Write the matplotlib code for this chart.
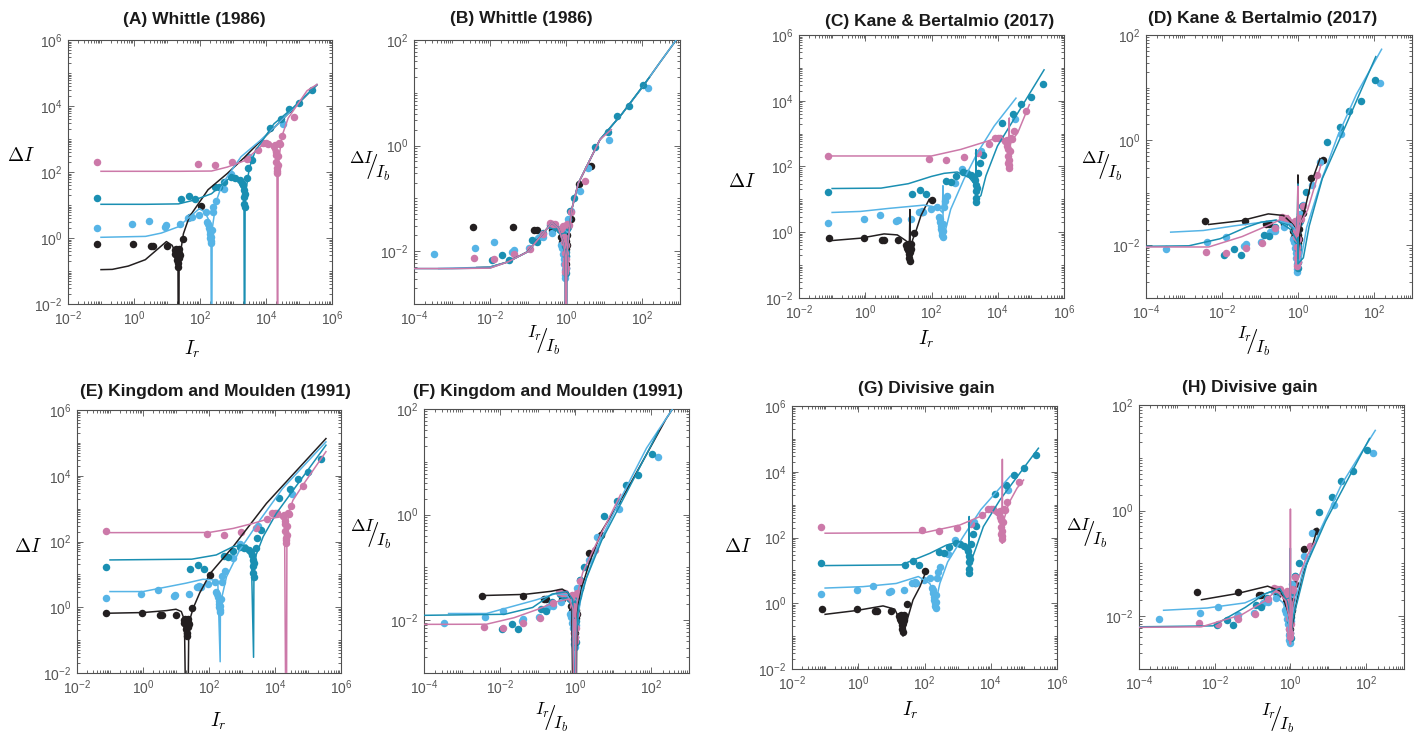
import numpy as np
import matplotlib.pyplot as plt
from matplotlib.ticker import FixedLocator, LogLocator, FuncFormatter, NullFormatter

plt.rcParams['font.family'] = ['Liberation Sans', 'DejaVu Sans']
plt.rcParams['mathtext.fontset'] = 'cm'

# series colours: black, light blue, teal, pink (background levels Ib)
colors = ['#231f20', '#56b4e6', '#1a8fb2', '#cc79a9']
Ib = [22.4, 224, 2240, 22400]

# ---- measured thresholds (Ir, dI) ----
black_ir = [0.078, 0.92, 3.3, 3.8, 9.8, 17, 18, 19, 20, 20.5, 21, 21.5, 22, 22.5, 23, 23.5, 24, 30, 50, 105]
black_di = [0.65, 0.65, 0.57, 0.57, 0.57, 0.42, 0.33, 0.45, 0.28, 0.22, 0.38, 0.17, 0.13, 0.25, 0.35, 0.45, 0.3, 0.92, 4.2, 9.3]

light_ir = [0.077, 0.9, 2.8, 8.5, 9.5, 24, 42, 50, 57, 95, 150, 165, 175, 185, 195, 200, 205, 210, 215,
            220, 230, 240, 250, 300, 520, 850, 3100, 33000]
light_di = [1.95, 2.6, 3.3, 2.2, 2.4, 2.6, 4.0, 4.3, 4.2, 5.0, 6.0, 3.0, 2.6, 2.0, 1.6, 1.3, 1.0, 0.8, 0.7,
            1.1, 1.8, 6.0, 9.0, 13, 31, 85, 290, 2800]

teal_ir = [0.077, 26, 46, 70, 280, 380, 550, 870, 1150, 1600, 1900, 2050, 2150, 2200, 2200, 2250, 2300,
           2570, 2900, 3700, 13000, 28000, 50000, 100000, 240000]
teal_di = [16.6, 15, 19, 15, 36, 34, 50, 69, 65, 57, 48, 40, 28, 18, 11, 8.5, 22,
           65, 128, 230, 2100, 4000, 8000, 12600, 31600]

pink_ir = [0.077, 85, 280, 950, 2600, 5600, 8300, 10000, 11700, 17000, 18600, 19500, 20000, 20500, 21000,
           21500, 22000, 22500, 23000, 24500, 27000, 30000, 72000]
pink_di = [204, 170, 162, 200, 250, 470, 760, 740, 720, 600, 660, 415, 330, 205, 128,
           91, 110, 160, 300, 740, 700, 1230, 4800]

data_ir = [black_ir, light_ir, teal_ir, pink_ir]
data_di = [black_di, light_di, teal_di, pink_di]

# ---- model curves (Ir, dI) ----
# Whittle (1986)
wh_black_ir = [0.1, 0.22, 0.67, 2.2, 5.2, 9.6, 14.3, 19.5, 21.5, 22.4, 23.3, 26.9, 31.4, 47, 87, 175, 670, 2240, 6700, 22400, 350000]
wh_black_di = [0.11, 0.112, 0.141, 0.22, 0.46, 0.78, 0.6, 0.31, 0.18, 1e-6, 0.18, 0.49, 1.34, 4.3, 10.5, 29, 90, 280, 850, 2800, 44000]
wh_light_ir = [0.1, 2.24, 6.7, 22.4, 52, 96, 143, 195, 215, 224, 233, 269, 314, 470, 870, 1750, 6700, 22400, 67000, 350000]
wh_light_di = [1.05, 1.12, 1.41, 2.2, 4.6, 7.8, 6.0, 3.1, 1.8, 1e-6, 1.8, 4.9, 13.4, 43, 105, 290, 900, 2800, 8500, 44000]
wh_teal_ir = [0.1, 2.24, 22.4, 67, 224, 520, 960, 1430, 1950, 2150, 2240, 2330, 2690, 3140, 4700, 8700, 17500, 67000, 350000]
wh_teal_di = [10.5, 10.5, 10.8, 14.1, 22, 46, 78, 60, 31, 18, 1e-6, 18, 49, 134, 430, 1050, 2900, 9000, 44000]
wh_pink_ir = [0.1, 22.4, 224, 672, 2240, 5200, 9600, 14300, 19500, 21500, 22400, 23300, 26900, 31400, 47000, 87000, 175000, 350000]
wh_pink_di = [105, 105, 107, 141, 220, 460, 780, 600, 310, 180, 1e-6, 180, 490, 1340, 4300, 10500, 29000, 45000]

# Kane & Bertalmio (2017)
kb_black_ir = [0.1, 0.72, 3.7, 9.3, 16.6, 21.5, 22.3, 22.4, 23, 27, 33, 48, 85]
kb_black_di = [0.56, 0.66, 0.89, 0.83, 0.56, 0.44, 4.9, 0.125, 0.2, 0.6, 1.0, 3.2, 10]
kb_light_ir = [0.1, 0.72, 5, 60, 150, 213, 222, 224, 270, 380, 950, 2450, 7800, 35500]
kb_light_di = [4.0, 4.3, 5.3, 6.7, 5.7, 4.0, 26, 1.0, 1.26, 5, 41, 263, 1700, 12000]
kb_teal_ir = [0.1, 3, 20, 100, 240, 600, 1380, 2200, 2230, 2240, 3100, 4400, 9800, 40000, 250000]
kb_teal_di = [21.4, 22, 30, 50, 62, 68, 46, 26, 330, 10, 13, 52, 420, 4200, 87000]
kb_pink_ir = [0.1, 100, 760, 4900, 12300, 19500, 22000, 22300, 22400, 26000, 40000, 90000]
kb_pink_di = [209, 209, 330, 590, 830, 525, 330, 3000, 350, 600, 1050, 7600]

# Kingdom and Moulden (1991)
km_black_ir = [0.1, 1, 5.1, 10, 14.5, 18, 21.5, 24.5, 33, 52, 110, 540, 5500, 350000]
km_black_di = [0.66, 0.69, 0.79, 0.87, 0.74, 0.41, 1e-6, 0.33, 0.93, 2.7, 10.8, 70, 1440, 135000]
km_light_ir = [0.1, 1, 20, 66, 132, 186, 218, 222, 340, 850, 3500, 17000, 350000]
km_light_di = [3.0, 3.0, 5.4, 7.1, 6.8, 4.8, 0.022, 1.3, 8.5, 55, 450, 4100, 107000]
km_teal_ir = [0.1, 30, 166, 540, 1350, 1900, 2240, 2300, 2700, 4370, 11000, 350000]
km_teal_di = [27.5, 29, 39, 70, 78, 55, 0.03, 10, 40, 140, 720, 85000]
km_pink_ir = [0.1, 100, 540, 2140, 6900, 15500, 19500, 22000, 23000, 27500, 35000, 70000, 350000]
km_pink_di = [186, 188, 250, 355, 500, 565, 355, 1e-6, 300, 910, 1800, 5200, 54000]

# Divisive gain
dg_black_ir = [0.1, 0.87, 5.6, 12.6, 20, 22.4, 32, 45, 73, 115]
dg_black_di = [0.46, 0.6, 0.83, 0.66, 0.25, 0.1, 0.39, 1.26, 3.2, 10.3]
dg_light_ir = [0.1, 1.4, 14, 65, 145, 200, 220, 250, 290, 500, 1500, 5000, 39000]
dg_light_di = [2.9, 3.2, 4.0, 6.5, 4.0, 1.8, 0.8, 2.0, 4.0, 18, 110, 700, 7400]
dg_teal_ir = [0.1, 20, 145, 465, 1170, 1860, 2200, 2230, 2245, 2600, 3400, 6000, 19000, 275000]
dg_teal_di = [14, 14.7, 33, 59, 75, 42, 20, 435, 9, 20, 42, 215, 1400, 52000]
dg_pink_ir = [0.1, 100, 1170, 4750, 9500, 17000, 21000, 22300, 22400, 22500, 26000, 35000, 62000, 98000]
dg_pink_di = [135, 141, 240, 435, 690, 435, 200, 67, 24000, 67, 400, 1100, 3160, 5600]

models = {
    'wh': ([wh_black_ir, wh_light_ir, wh_teal_ir, wh_pink_ir], [wh_black_di, wh_light_di, wh_teal_di, wh_pink_di]),
    'kb': ([kb_black_ir, kb_light_ir, kb_teal_ir, kb_pink_ir], [kb_black_di, kb_light_di, kb_teal_di, kb_pink_di]),
    'km': ([km_black_ir, km_light_ir, km_teal_ir, km_pink_ir], [km_black_di, km_light_di, km_teal_di, km_pink_di]),
    'dg': ([dg_black_ir, dg_light_ir, dg_teal_ir, dg_pink_ir], [dg_black_di, dg_light_di, dg_teal_di, dg_pink_di]),
}

W, H = 1419, 739

# panel: (title, model, normalised, box px (l, r, t, b), title pos, ylabel pos, xlabel pos)
panels = [
    ('(A) Whittle (1986)', 'wh', False, (68, 332, 40, 304), (0.48, 1.076), (-0.18, 0.56), (0.47, -0.17)),
    ('(B) Whittle (1986)', 'wh', True, (414, 680, 40, 304), (0.405, 1.082), (-0.17, 0.52), (0.485, -0.14)),
    ('(C) Kane & Bertalmio (2017)', 'kb', False, (799, 1064, 35, 298), (0.532, 1.05), (-0.216, 0.44), (0.48, -0.158)),
    ('(D) Kane & Bertalmio (2017)', 'kb', True, (1146, 1412, 35, 298), (0.44, 1.063), (-0.167, 0.5), (0.404, -0.165)),
    ('(E) Kingdom and Moulden (1991)', 'km', False, (77, 341, 410, 673), (0.523, 1.07), (-0.186, 0.48), (0.534, -0.184)),
    ('(F) Kingdom and Moulden (1991)', 'km', True, (424, 689, 409, 673), (0.468, 1.067), (-0.204, 0.524), (0.48, -0.17)),
    ('(G) Divisive gain', 'dg', False, (792, 1057, 406, 669), (0.508, 1.067), (-0.204, 0.465), (0.445, -0.156)),
    ('(H) Divisive gain', 'dg', True, (1139, 1404, 405, 669), (0.419, 1.067), (-0.2, 0.514), (0.52, -0.187)),
]

tick_fmt = FuncFormatter(lambda v, p: r'$\mathregular{10^{%d}}$' % int(round(np.log10(v))))
axis_col = '#505050'

fig = plt.figure(figsize=(W / 100, H / 100), dpi=100)

for title, key, norm, (l, r, t, b), tpos, ypos, xpos in panels:
    ax = fig.add_axes([l / W, 1 - b / H, (r - l) / W, (b - t) / H])
    ax.set_xscale('log')
    ax.set_yscale('log')
    cur_ir, cur_di = models[key]

    for k in range(4):
        x = np.array(data_ir[k])
        y = np.array(data_di[k])
        if norm:
            x, y = x / Ib[k], y / Ib[k]
        ax.plot(x, y, 'o', color=colors[k], markersize=5.4, markeredgewidth=0, zorder=2)
    for k in range(4):
        x = np.array(cur_ir[k])
        y = np.array(cur_di[k])
        if norm:
            x, y = x / Ib[k], y / Ib[k]
        ax.plot(x, y, '-', color=colors[k], linewidth=1.1, zorder=3)

    if norm:
        ax.set_xlim(1e-4, 1e3)
        ax.set_ylim(1e-3, 1e2)
        ax.xaxis.set_major_locator(FixedLocator([1e-4, 1e-2, 1e0, 1e2]))
        ax.yaxis.set_major_locator(FixedLocator([1e-2, 1e0, 1e2]))
        ax.set_ylabel(r'${}^{\Delta I}\!\!/\!{}_{I_b}$', fontsize=18, rotation=0, ha='center', va='center')
        ax.set_xlabel(r'${}^{I_r}\!\!/\!{}_{I_b}$', fontsize=18, ha='center', va='center')
    else:
        ax.set_xlim(1e-2, 1e6)
        ax.set_ylim(1e-2, 1e6)
        ax.xaxis.set_major_locator(FixedLocator([1e-2, 1e0, 1e2, 1e4, 1e6]))
        ax.yaxis.set_major_locator(FixedLocator([1e-2, 1e0, 1e2, 1e4, 1e6]))
        ax.set_ylabel(r'$\Delta I$', fontsize=14, rotation=0, ha='center', va='center')
        ax.set_xlabel(r'$I_r$', fontsize=14, ha='center', va='center')
    ax.yaxis.set_label_coords(*ypos)
    ax.xaxis.set_label_coords(*xpos)
    for axis in (ax.xaxis, ax.yaxis):
        axis.set_minor_locator(LogLocator(base=10, subs=np.arange(1, 10), numticks=50))
        axis.set_minor_formatter(NullFormatter())
        axis.set_major_formatter(tick_fmt)

    ax.tick_params(which='both', direction='in', top=True, right=True, colors=axis_col,
                   labelcolor='#555555', labelsize=10, width=0.6)
    ax.tick_params(which='major', length=4, pad=4)
    ax.tick_params(which='minor', length=2)
    for s in ax.spines.values():
        s.set_color(axis_col)
        s.set_linewidth(0.8)

    ax.text(tpos[0], tpos[1], title, transform=ax.transAxes, ha='center', va='center',
            fontsize=12.5, fontweight='bold', color='#1a1a1a')

fig.savefig('out.png', dpi=100)
